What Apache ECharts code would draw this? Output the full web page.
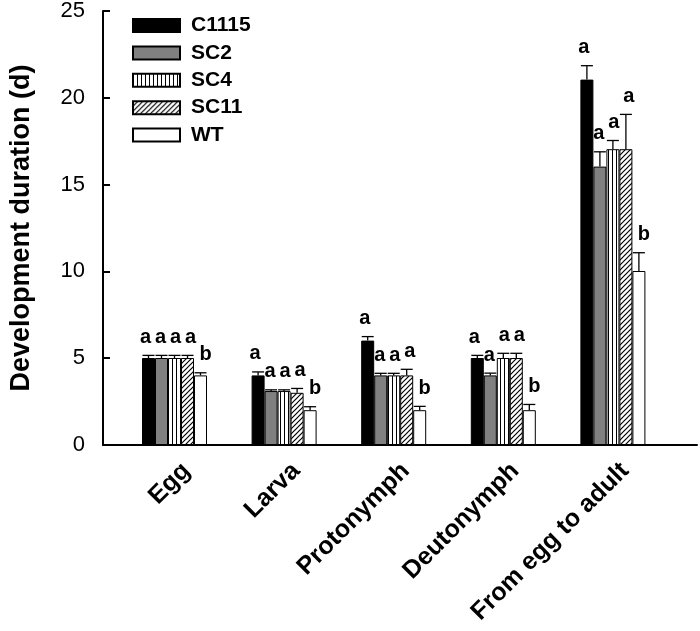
<!DOCTYPE html>
<html>
<head>
<meta charset="utf-8">
<script src="https://cdn.jsdelivr.net/npm/echarts@6/dist/echarts.min.js"></script>
<style>
html,body{margin:0;padding:0;background:#fff;}
#main{width:700px;height:631px;}
</style>
</head>
<body>
<div id="main"></div>
<script>
// ---------- data ----------
const categories = ['Egg', 'Larva', 'Protonymph', 'Deutonymph', 'From egg to adult'];
const seriesNames = ['C1115', 'SC2', 'SC4', 'SC11', 'WT'];

const c1115 = [5.0, 4.0, 6.0, 5.0, 21.0];
const c1115Err = [0.15, 0.2, 0.23, 0.15, 0.8];
const c1115Letters = ['a', 'a', 'a', 'a', 'a'];

const sc2 = [5.0, 3.1, 4.0, 4.0, 16.0];
const sc2Err = [0.15, 0.07, 0.12, 0.13, 0.85];
const sc2Letters = ['a', 'a', 'a', 'a', 'a'];

const sc4 = [5.0, 3.1, 4.0, 5.0, 17.0];
const sc4Err = [0.15, 0.07, 0.12, 0.27, 0.5];
const sc4Letters = ['a', 'a', 'a', 'a', 'a'];

const sc11 = [5.0, 3.0, 4.0, 5.0, 17.0];
const sc11Err = [0.15, 0.25, 0.35, 0.27, 2.0];
const sc11Letters = ['a', 'a', 'a', 'a', 'a'];

const wt = [4.0, 2.0, 2.0, 2.0, 10.0];
const wtErr = [0.15, 0.2, 0.22, 0.33, 1.05];
const wtLetters = ['b', 'b', 'b', 'b', 'b'];

const yTicks = [0, 5, 10, 15, 20, 25];

const values = [c1115, sc2, sc4, sc11, wt];
const errors = [c1115Err, sc2Err, sc4Err, sc11Err, wtErr];
const letters = [c1115Letters, sc2Letters, sc4Letters, sc11Letters, wtLetters];

// ---------- patterns ----------
function vStripe() {
  const c = document.createElement('canvas');
  c.width = 4; c.height = 4;
  const g = c.getContext('2d');
  g.fillStyle = '#fff'; g.fillRect(0, 0, 4, 4);
  g.fillStyle = '#000'; g.fillRect(0, 0, 1, 4);
  return { image: c, repeat: 'repeat' };
}
function diag() {
  const s = 5;
  const c = document.createElement('canvas');
  c.width = s; c.height = s;
  const g = c.getContext('2d');
  g.fillStyle = '#fff'; g.fillRect(0, 0, s, s);
  g.strokeStyle = '#000'; g.lineWidth = 1.2;
  g.beginPath();
  g.moveTo(-1, s + 1); g.lineTo(s + 1, -1);
  g.moveTo(-1, 1); g.lineTo(1, -1);
  g.moveTo(s - 1, s + 1); g.lineTo(s + 1, s - 1);
  g.stroke();
  return { image: c, repeat: 'repeat' };
}
const fills = ['#000000', '#808080', vStripe(), diag(), '#ffffff'];

const FONT = '"Liberation Sans", Arial, sans-serif';
const BAR_W = 13;
const LETTER_STEP = 15;

const chart = echarts.init(document.getElementById('main'), null, { renderer: 'canvas' });

const series = [];
seriesNames.forEach((name, j) => {
  series.push({
    name: name,
    type: 'bar',
    xAxisIndex: 1,
    yAxisIndex: 1,
    barWidth: BAR_W,
    barGap: '0%',
    data: values[j],
    itemStyle: { color: fills[j], borderColor: '#000', borderWidth: 1 },
    emphasis: { disabled: true },
    z: 2
  });
});
seriesNames.forEach((name, j) => {
  const off = (j - 2) * BAR_W;
  const loff = (j - 2) * LETTER_STEP + 1;
  series.push({
    name: name + '_err',
    type: 'custom',
    xAxisIndex: 1,
    yAxisIndex: 1,
    z: 5,
    encode: { x: 0, y: 1 },
    data: categories.map((c, i) => [i, values[j][i], errors[j][i]]),
    renderItem: function (params, api) {
      const xi = api.value(0), v = api.value(1), e = api.value(2);
      const base = api.coord([xi, v]);
      const top = api.coord([xi, v + e]);
      const cx = base[0] + off;
      const half = 6;
      return {
        type: 'group',
        children: [
          { type: 'line', shape: { x1: cx, y1: base[1], x2: cx, y2: top[1] }, style: { stroke: '#000', lineWidth: 1.3 } },
          { type: 'line', shape: { x1: cx - half, y1: top[1], x2: cx + half, y2: top[1] }, style: { stroke: '#000', lineWidth: 1.3 } },
          { type: 'text', style: { text: letters[j][params.dataIndex], x: base[0] + loff, y: top[1] - 18, align: 'center', verticalAlign: 'middle', font: 'bold 20px ' + FONT, fill: '#000' } }
        ]
      };
    }
  });
});

const option = {
  animation: false,
  backgroundColor: '#fff',
  legend: {
    data: seriesNames,
    orient: 'vertical',
    left: 132,
    top: 15,
    padding: 0,
    icon: 'rect',
    itemWidth: 47,
    itemHeight: 13,
    itemGap: 6.4,
    textStyle: { fontFamily: FONT, fontWeight: 'bold', fontSize: 21, color: '#000', lineHeight: 20, padding: [0, 0, 0, 6] }
  },
  grid: [
    { left: 92, right: 3, top: 10, bottom: 186 },
    { left: 119.7, right: 32.3, top: 10, bottom: 186 },
    { left: 131.7, right: 20.3, top: 10, bottom: 186 }
  ],
  xAxis: [
    { type: 'value', gridIndex: 0, min: 0, max: 1, axisLine: { show: true, lineStyle: { color: '#000', width: 2 } }, axisTick: { show: false }, axisLabel: { show: false }, splitLine: { show: false } },
    { type: 'category', gridIndex: 1, data: categories, axisLine: { show: false }, axisTick: { show: false }, axisLabel: { show: false }, splitLine: { show: false } },
    { type: 'category', gridIndex: 2, data: categories, axisLine: { show: false }, axisTick: { show: false }, splitLine: { show: false },
      axisLabel: { show: true, interval: 0, rotate: 45, margin: 22, fontFamily: FONT, fontWeight: 'bold', fontSize: 25, color: '#000' } }
  ],
  yAxis: [
    { type: 'value', gridIndex: 0, min: yTicks[0], max: yTicks[yTicks.length - 1], interval: 5,
      name: 'Development duration (d)', nameLocation: 'middle', nameGap: 68,
      nameTextStyle: { fontFamily: FONT, fontWeight: 'bold', fontSize: 27, color: '#000' },
      axisLine: { show: true, lineStyle: { color: '#000', width: 2 } },
      axisTick: { show: true, inside: true, length: 7, lineStyle: { color: '#000', width: 2 } },
      axisLabel: { margin: 18, fontFamily: FONT, fontSize: 22, color: '#000' },
      splitLine: { show: false } },
    { type: 'value', gridIndex: 1, min: 0, max: 25, interval: 5, show: false, splitLine: { show: false } },
    { type: 'value', gridIndex: 2, min: 0, max: 25, interval: 5, show: false, splitLine: { show: false } }
  ],
  series: series
};
chart.setOption(option);
</script>
</body>
</html>
